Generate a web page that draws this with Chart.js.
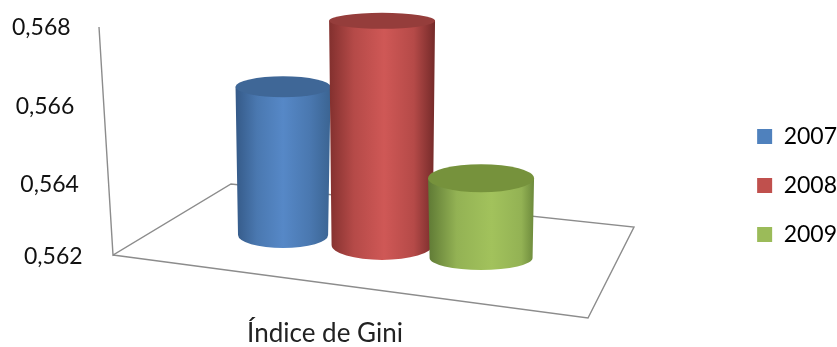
<!DOCTYPE html>
<html>
<head>
<meta charset="utf-8">
<style>
  html, body { margin: 0; padding: 0; background: #fff; }
  canvas { display: block; }
</style>
<script src="https://cdn.jsdelivr.net/npm/chart.js@4"></script>
</head>
<body>
<canvas id="myChart" width="837" height="347"></canvas>
<script>
  const categories = ['Índice de Gini'];
  const seriesNames = ['2007', '2008', '2009'];
  const values2007 = [0.5659];
  const values2008 = [0.5679];
  const values2009 = [0.5641];
  const tickLabels = ['0,562', '0,564', '0,566', '0,568'];

  const legendColors = ['#4f81bd', '#c0504d', '#9bbb59'];

  // look of each cylinder: perspective factors and shading
  const looks = [
    { topW: 0.96, baseW: 0.91, topR: 10.5, baseR: 13, shift: -20, lid: '#3f6797', dark: '#355a88', mid: '#4a78b0', light: '#5688c7', right: '#3b6492', peak: 0.5 },
    { topW: 1.07, baseW: 1.02, topR: 8, baseR: 15, shift: -10, lid: '#953d3b', dark: '#82302e', mid: '#b54a48', light: '#cf5856', right: '#742a29', peak: 0.52 },
    { topW: 1.07, baseW: 1.04, topR: 14, baseR: 12, shift: 3, lid: '#76923c', dark: '#5f7a35', mid: '#93b254', light: '#a2c25c', right: '#6d8a3c', peak: 0.6 }
  ];

  // slanted frame of the 3D box
  const wallX = { top: 99, bottom: 113 };
  const floor = { back: [231, 184], right: [634, 227], front: [588, 318] };
  // how far each tick label sits from the slanted wall
  const labelGap = [89, 88, 88, 87];
  const labelDrop = [2, 6, 4, 1];
  // legend sits further out than the layout puts it
  const legendShift = { x: 10, y: 3 };

  const cylinders = {
    id: 'cylinders',
    afterLayout(chart) {
      const legend = chart.legend;
      legend.left += legendShift.x;
      legend.right += legendShift.x;
      legend.top += legendShift.y;
      legend.bottom += legendShift.y;
    },
    beforeDraw(chart) {
      const y = chart.scales.y;
      const x = chart.scales.x;
      const span = y.bottom - y.top;
      y.getLabelItems().forEach((item, i) => {
        const py = y.getPixelForValue(y.ticks[i].value);
        const wx = wallX.top + (wallX.bottom - wallX.top) * (py - y.top) / span;
        item.textOffset = 0;
        item.options.textAlign = 'left';
        item.options.textBaseline = 'middle';
        item.options.translation = [wx - labelGap[i], py + labelDrop[i]];
      });
      x.getLabelItems().forEach(item => {
        item.textOffset = 0;
        item.options.textAlign = 'center';
        item.options.textBaseline = 'middle';
        item.options.translation = [325, 334];
      });
    },
    beforeDatasetsDraw(chart) {
      const ctx = chart.ctx;
      const y = chart.scales.y;
      const baseY = y.getPixelForValue(y.min);
      const topY = y.getPixelForValue(y.max);

      // wall and floor lines
      ctx.save();
      ctx.strokeStyle = '#8c8c8c';
      ctx.lineWidth = 1.4;
      ctx.beginPath();
      ctx.moveTo(wallX.top, topY);
      ctx.lineTo(wallX.bottom, baseY);
      ctx.lineTo(floor.back[0], floor.back[1]);
      ctx.lineTo(floor.right[0], floor.right[1]);
      ctx.lineTo(floor.front[0], floor.front[1]);
      ctx.lineTo(wallX.bottom, baseY);
      ctx.stroke();
      ctx.restore();

      // cylinders, left to right so the later ones overlap
      chart.data.datasets.forEach((ds, i) => {
        const bar = chart.getDatasetMeta(i).data[0];
        const look = looks[i];
        const half = bar.width / 2;
        const top = bar.y + look.shift;
        const bottom = baseY + look.shift;
        const tw = half * look.topW;
        const bw = half * look.baseW;

        const grad = ctx.createLinearGradient(bar.x - tw, 0, bar.x + tw, 0);
        grad.addColorStop(0, look.dark);
        grad.addColorStop(look.peak * 0.45, look.mid);
        grad.addColorStop(look.peak, look.light);
        grad.addColorStop(Math.min(0.95, look.peak + 0.28), look.mid);
        grad.addColorStop(1, look.right);

        ctx.save();
        ctx.fillStyle = grad;
        ctx.beginPath();
        ctx.moveTo(bar.x - tw, top);
        ctx.lineTo(bar.x - bw, bottom);
        ctx.ellipse(bar.x, bottom, bw, look.baseR, 0, Math.PI, 0, true);
        ctx.lineTo(bar.x + tw, top);
        ctx.closePath();
        ctx.fill();

        ctx.fillStyle = look.lid;
        ctx.beginPath();
        ctx.ellipse(bar.x, top, tw, look.topR, 0, 0, Math.PI * 2);
        ctx.fill();
        ctx.restore();
      });
    },
    // the flat bars are replaced by the cylinders above
    beforeDatasetDraw() {
      return false;
    }
  };

  const allValues = [values2007, values2008, values2009];

  new Chart(document.getElementById('myChart'), {
    type: 'bar',
    data: {
      labels: categories,
      datasets: seriesNames.map((name, i) => ({
        label: name,
        data: allValues[i],
        backgroundColor: legendColors[i]
      }))
    },
    plugins: [cylinders],
    options: {
      responsive: false,
      animation: false,
      layout: {
        padding: { left: 29, top: 27, right: 0, bottom: 78 }
      },
      categoryPercentage: 0.438,
      barPercentage: 1,
      plugins: {
        tooltip: { enabled: false },
        legend: {
          position: 'right',
          align: 'end',
          labels: {
            boxWidth: 15,
            boxHeight: 15,
            padding: 26,
            color: '#000',
            font: { family: 'Lato', size: 23 }
          }
        }
      },
      scales: {
        x: {
          grid: { display: false },
          border: { display: false },
          ticks: {
            mirror: true,
            color: '#222',
            font: { family: 'Lato', size: 26 }
          }
        },
        y: {
          min: 0.562,
          max: 0.568,
          grid: { display: false },
          border: { display: false },
          ticks: {
            mirror: true,
            stepSize: 0.002,
            autoSkip: false,
            color: '#111',
            font: { family: 'Lato', size: 23 },
            callback: (value, i) => tickLabels[i]
          }
        }
      }
    }
  });
</script>
</body>
</html>
